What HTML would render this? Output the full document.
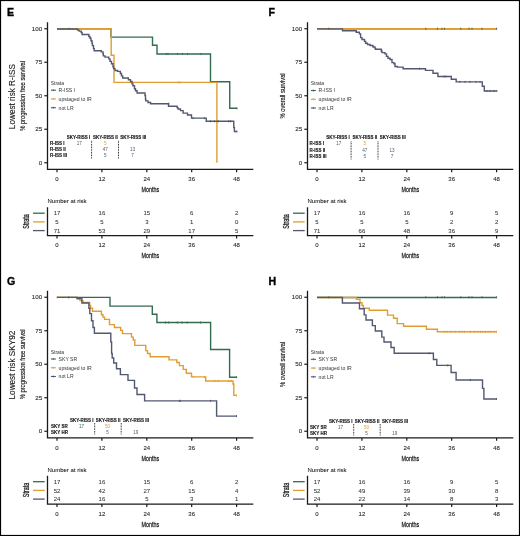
<!DOCTYPE html>
<html><head><meta charset="utf-8"><style>
html,body{margin:0;padding:0;background:#fff;width:520px;height:536px;overflow:hidden}
svg{display:block;will-change:transform}
text{font-family:"Liberation Sans", sans-serif}
</style></head><body>
<svg width="520" height="536" viewBox="0 0 520 536" font-family='"Liberation Sans", sans-serif'>
<rect x="0" y="0" width="520" height="536" fill="#fff"/>
<text x="6.90" y="16.30" font-size="10.6" text-anchor="start" font-weight="bold" fill="#000" stroke="#000" stroke-width="0.35" >E</text>
<text x="0.00" y="0.00" font-size="8.2" text-anchor="middle" font-weight="normal" fill="#1a1a1a" stroke="#1a1a1a" stroke-width="0.12" transform="translate(14.50,96.60) rotate(-90) scale(1,1)" >Lowest risk R-ISS</text>
<text x="0.00" y="0.00" font-size="7" text-anchor="middle" font-weight="normal" fill="#222" stroke="#222" stroke-width="0.18" transform="translate(24.90,95.90) rotate(-90) scale(0.83,1)" >% progression free survival</text>
<path d="M47.50 22.20 V169.40 H253.30" fill="none" stroke="#1a1a1a" stroke-width="1.3"/>
<line x1="44.30" y1="28.75" x2="47.50" y2="28.75" stroke="#1a1a1a" stroke-width="1.2"/>
<text x="42.20" y="30.95" font-size="6.2" text-anchor="end" font-weight="normal" fill="#2a2a2a" stroke="#2a2a2a" stroke-width="0.1" >100</text>
<line x1="44.30" y1="62.25" x2="47.50" y2="62.25" stroke="#1a1a1a" stroke-width="1.2"/>
<text x="42.20" y="64.45" font-size="6.2" text-anchor="end" font-weight="normal" fill="#2a2a2a" stroke="#2a2a2a" stroke-width="0.1" >75</text>
<line x1="44.30" y1="95.75" x2="47.50" y2="95.75" stroke="#1a1a1a" stroke-width="1.2"/>
<text x="42.20" y="97.95" font-size="6.2" text-anchor="end" font-weight="normal" fill="#2a2a2a" stroke="#2a2a2a" stroke-width="0.1" >50</text>
<line x1="44.30" y1="129.25" x2="47.50" y2="129.25" stroke="#1a1a1a" stroke-width="1.2"/>
<text x="42.20" y="131.45" font-size="6.2" text-anchor="end" font-weight="normal" fill="#2a2a2a" stroke="#2a2a2a" stroke-width="0.1" >25</text>
<line x1="44.30" y1="162.75" x2="47.50" y2="162.75" stroke="#1a1a1a" stroke-width="1.2"/>
<text x="42.20" y="164.95" font-size="6.2" text-anchor="end" font-weight="normal" fill="#2a2a2a" stroke="#2a2a2a" stroke-width="0.1" >0</text>
<line x1="57.00" y1="169.40" x2="57.00" y2="172.20" stroke="#1a1a1a" stroke-width="1.2"/>
<text x="57.00" y="181.00" font-size="6" text-anchor="middle" font-weight="normal" fill="#2a2a2a" stroke="#2a2a2a" stroke-width="0.1" >0</text>
<line x1="101.90" y1="169.40" x2="101.90" y2="172.20" stroke="#1a1a1a" stroke-width="1.2"/>
<text x="101.90" y="181.00" font-size="6" text-anchor="middle" font-weight="normal" fill="#2a2a2a" stroke="#2a2a2a" stroke-width="0.1" >12</text>
<line x1="146.80" y1="169.40" x2="146.80" y2="172.20" stroke="#1a1a1a" stroke-width="1.2"/>
<text x="146.80" y="181.00" font-size="6" text-anchor="middle" font-weight="normal" fill="#2a2a2a" stroke="#2a2a2a" stroke-width="0.1" >24</text>
<line x1="191.70" y1="169.40" x2="191.70" y2="172.20" stroke="#1a1a1a" stroke-width="1.2"/>
<text x="191.70" y="181.00" font-size="6" text-anchor="middle" font-weight="normal" fill="#2a2a2a" stroke="#2a2a2a" stroke-width="0.1" >36</text>
<line x1="236.60" y1="169.40" x2="236.60" y2="172.20" stroke="#1a1a1a" stroke-width="1.2"/>
<text x="236.60" y="181.00" font-size="6" text-anchor="middle" font-weight="normal" fill="#2a2a2a" stroke="#2a2a2a" stroke-width="0.1" >48</text>
<text x="0.00" y="0.00" font-size="7.6" text-anchor="middle" font-weight="normal" fill="#222" stroke="#222" stroke-width="0.25" transform="translate(150.40,192.30) rotate(0) scale(0.71,1)" >Months</text>
<text x="50.70" y="84.80" font-size="5" text-anchor="start" font-weight="normal" fill="#333" stroke="#333" stroke-width="0" >Strata</text>
<line x1="50.90" y1="90.20" x2="55.90" y2="90.20" stroke="#346b50" stroke-width="1.1"/>
<line x1="53.40" y1="89.20" x2="53.40" y2="91.20" stroke="#346b50" stroke-width="0.7"/>
<text x="58.60" y="92.05" font-size="5.1" text-anchor="start" font-weight="normal" fill="#333" stroke="#333" stroke-width="0" >R-ISS I</text>
<line x1="50.90" y1="98.95" x2="55.90" y2="98.95" stroke="#e29d32" stroke-width="1.1"/>
<line x1="53.40" y1="97.95" x2="53.40" y2="99.95" stroke="#e29d32" stroke-width="0.7"/>
<text x="58.60" y="100.80" font-size="5.1" text-anchor="start" font-weight="normal" fill="#333" stroke="#333" stroke-width="0" >upstaged to IR</text>
<line x1="50.90" y1="107.70" x2="55.90" y2="107.70" stroke="#525870" stroke-width="1.1"/>
<line x1="53.40" y1="106.70" x2="53.40" y2="108.70" stroke="#525870" stroke-width="0.7"/>
<text x="58.60" y="109.55" font-size="5.1" text-anchor="start" font-weight="normal" fill="#333" stroke="#333" stroke-width="0" >not LR</text>
<path d="M57.00 28.75 H111.00 V37.10 H152.50 V45.25 H157.00 V54.00 H210.50 V81.75 H229.75 V108.30 H237.00 V108.30" transform="translate(0,0)" fill="none" stroke="#346b50" stroke-width="1.4" stroke-linejoin="miter" stroke-linecap="butt"/>
<line x1="68.80" y1="27.70" x2="68.80" y2="29.80" stroke="#346b50" stroke-width="0.9"/>
<line x1="166.25" y1="52.95" x2="166.25" y2="55.05" stroke="#346b50" stroke-width="0.9"/>
<line x1="168.00" y1="52.95" x2="168.00" y2="55.05" stroke="#346b50" stroke-width="0.9"/>
<line x1="177.50" y1="52.95" x2="177.50" y2="55.05" stroke="#346b50" stroke-width="0.9"/>
<line x1="182.50" y1="52.95" x2="182.50" y2="55.05" stroke="#346b50" stroke-width="0.9"/>
<line x1="187.50" y1="52.95" x2="187.50" y2="55.05" stroke="#346b50" stroke-width="0.9"/>
<line x1="200.75" y1="52.95" x2="200.75" y2="55.05" stroke="#346b50" stroke-width="0.9"/>
<line x1="237.00" y1="107.25" x2="237.00" y2="109.35" stroke="#346b50" stroke-width="0.9"/>
<path d="M57.00 28.75 H111.20 V55.20 H114.00 V82.40 H216.90 V162.75" transform="translate(0,0)" fill="none" stroke="#e29d32" stroke-width="1.4" stroke-linejoin="miter" stroke-linecap="butt"/>
<line x1="178.10" y1="81.35" x2="178.10" y2="83.45" stroke="#e29d32" stroke-width="0.9"/>
<line x1="180.20" y1="81.35" x2="180.20" y2="83.45" stroke="#e29d32" stroke-width="0.9"/>
<path d="M57.00 29.00 H77.50 V30.10 H79.10 V31.10 H81.20 V32.50 H82.10 V34.50 H88.80 V36.50 H90.00 V38.30 H91.00 V40.80 H92.00 V43.20 H92.40 V45.60 H93.50 V48.60 H94.20 V50.70 H101.30 V51.90 H103.00 V53.80 H103.30 V55.90 H105.00 V57.10 H108.80 V58.90 H110.00 V61.40 H111.50 V63.80 H113.00 V66.80 H113.60 V68.60 H115.00 V70.50 H117.50 V71.40 H120.30 V73.50 H121.50 V75.90 H122.70 V78.00 H128.40 V79.70 H130.50 V81.50 H132.00 V83.90 H133.00 V85.80 H134.50 V88.80 H135.50 V90.80 H137.10 V93.00 H145.00 V95.50 H145.50 V99.10 H145.80 V100.90 H148.00 V102.50 H150.60 V103.80 H168.50 V106.20 H177.10 V107.60 H178.00 V109.00 H180.50 V110.60 H183.10 V113.10 H187.50 V115.00 H191.50 V118.10 H206.25 V121.25 H233.75 V127.50 H234.40 V131.50 H236.90 V131.50" transform="translate(0,0)" fill="none" stroke="#525870" stroke-width="1.4" stroke-linejoin="miter" stroke-linecap="butt"/>
<line x1="168.75" y1="102.65" x2="168.75" y2="104.75" stroke="#525870" stroke-width="0.9"/>
<line x1="193.10" y1="117.05" x2="193.10" y2="119.15" stroke="#525870" stroke-width="0.9"/>
<line x1="204.40" y1="117.05" x2="204.40" y2="119.15" stroke="#525870" stroke-width="0.9"/>
<line x1="210.40" y1="120.20" x2="210.40" y2="122.30" stroke="#525870" stroke-width="0.9"/>
<line x1="214.40" y1="120.20" x2="214.40" y2="122.30" stroke="#525870" stroke-width="0.9"/>
<line x1="218.10" y1="120.20" x2="218.10" y2="122.30" stroke="#525870" stroke-width="0.9"/>
<line x1="228.75" y1="120.20" x2="228.75" y2="122.30" stroke="#525870" stroke-width="0.9"/>
<line x1="230.60" y1="120.20" x2="230.60" y2="122.30" stroke="#525870" stroke-width="0.9"/>
<line x1="236.90" y1="130.45" x2="236.90" y2="132.55" stroke="#525870" stroke-width="0.9"/>
<text x="66.80" y="138.50" font-size="4.5" text-anchor="start" font-weight="bold" fill="#111" stroke="#111" stroke-width="0.1" >SKY-RISS I</text>
<text x="93.10" y="138.50" font-size="4.5" text-anchor="start" font-weight="bold" fill="#111" stroke="#111" stroke-width="0.1" >SKY-RISS II</text>
<text x="120.20" y="138.50" font-size="4.5" text-anchor="start" font-weight="bold" fill="#111" stroke="#111" stroke-width="0.1" >SKY-RISS III</text>
<text x="50.00" y="144.60" font-size="4.5" text-anchor="start" font-weight="bold" fill="#111" stroke="#111" stroke-width="0.1" >R-ISS I</text>
<text x="50.00" y="150.80" font-size="4.5" text-anchor="start" font-weight="bold" fill="#111" stroke="#111" stroke-width="0.1" >R-ISS II</text>
<text x="50.00" y="157.10" font-size="4.5" text-anchor="start" font-weight="bold" fill="#111" stroke="#111" stroke-width="0.1" >R-ISS III</text>
<text x="79.30" y="144.60" font-size="4.6" text-anchor="middle" font-weight="normal" fill="#346b50" stroke="#346b50" stroke-width="0" >17</text>
<text x="105.20" y="144.60" font-size="4.6" text-anchor="middle" font-weight="normal" fill="#e29d32" stroke="#e29d32" stroke-width="0" >5</text>
<text x="105.20" y="150.80" font-size="4.6" text-anchor="middle" font-weight="normal" fill="#525870" stroke="#525870" stroke-width="0" >47</text>
<text x="105.20" y="157.10" font-size="4.6" text-anchor="middle" font-weight="normal" fill="#525870" stroke="#525870" stroke-width="0" >5</text>
<text x="132.50" y="150.80" font-size="4.6" text-anchor="middle" font-weight="normal" fill="#525870" stroke="#525870" stroke-width="0" >13</text>
<text x="132.50" y="157.10" font-size="4.6" text-anchor="middle" font-weight="normal" fill="#525870" stroke="#525870" stroke-width="0" >7</text>
<line x1="91.60" y1="140.80" x2="91.60" y2="158.80" stroke="#000" stroke-width="0.95" stroke-dasharray="0.8 0.8"/>
<line x1="118.50" y1="140.80" x2="118.50" y2="158.80" stroke="#000" stroke-width="0.95" stroke-dasharray="0.8 0.8"/>
<text x="47.50" y="203.20" font-size="6" text-anchor="start" font-weight="normal" fill="#111" stroke="#111" stroke-width="0.06" >Number at risk</text>
<path d="M47.50 207.20 V235.60 H253.30" fill="none" stroke="#1a1a1a" stroke-width="1.3"/>
<line x1="57.00" y1="235.60" x2="57.00" y2="238.40" stroke="#1a1a1a" stroke-width="1.2"/>
<text x="57.00" y="247.20" font-size="6" text-anchor="middle" font-weight="normal" fill="#2a2a2a" stroke="#2a2a2a" stroke-width="0.1" >0</text>
<line x1="101.90" y1="235.60" x2="101.90" y2="238.40" stroke="#1a1a1a" stroke-width="1.2"/>
<text x="101.90" y="247.20" font-size="6" text-anchor="middle" font-weight="normal" fill="#2a2a2a" stroke="#2a2a2a" stroke-width="0.1" >12</text>
<line x1="146.80" y1="235.60" x2="146.80" y2="238.40" stroke="#1a1a1a" stroke-width="1.2"/>
<text x="146.80" y="247.20" font-size="6" text-anchor="middle" font-weight="normal" fill="#2a2a2a" stroke="#2a2a2a" stroke-width="0.1" >24</text>
<line x1="191.70" y1="235.60" x2="191.70" y2="238.40" stroke="#1a1a1a" stroke-width="1.2"/>
<text x="191.70" y="247.20" font-size="6" text-anchor="middle" font-weight="normal" fill="#2a2a2a" stroke="#2a2a2a" stroke-width="0.1" >36</text>
<line x1="236.60" y1="235.60" x2="236.60" y2="238.40" stroke="#1a1a1a" stroke-width="1.2"/>
<text x="236.60" y="247.20" font-size="6" text-anchor="middle" font-weight="normal" fill="#2a2a2a" stroke="#2a2a2a" stroke-width="0.1" >48</text>
<text x="0.00" y="0.00" font-size="7.6" text-anchor="middle" font-weight="normal" fill="#222" stroke="#222" stroke-width="0.25" transform="translate(150.40,258.00) rotate(0) scale(0.71,1)" >Months</text>
<text x="0.00" y="0.00" font-size="8.2" text-anchor="middle" font-weight="normal" fill="#222" stroke="#222" stroke-width="0.3" transform="translate(28.80,221.50) rotate(-90) scale(0.66,1)" >Strata</text>
<line x1="33.00" y1="213.20" x2="44.70" y2="213.20" stroke="#346b50" stroke-width="1.3"/>
<text x="57.00" y="215.40" font-size="6" text-anchor="middle" font-weight="normal" fill="#333" stroke="#333" stroke-width="0.06" >17</text>
<text x="101.90" y="215.40" font-size="6" text-anchor="middle" font-weight="normal" fill="#333" stroke="#333" stroke-width="0.06" >16</text>
<text x="146.80" y="215.40" font-size="6" text-anchor="middle" font-weight="normal" fill="#333" stroke="#333" stroke-width="0.06" >15</text>
<text x="191.70" y="215.40" font-size="6" text-anchor="middle" font-weight="normal" fill="#333" stroke="#333" stroke-width="0.06" >6</text>
<text x="236.60" y="215.40" font-size="6" text-anchor="middle" font-weight="normal" fill="#333" stroke="#333" stroke-width="0.06" >2</text>
<line x1="33.00" y1="221.90" x2="44.70" y2="221.90" stroke="#e29d32" stroke-width="1.3"/>
<text x="57.00" y="224.10" font-size="6" text-anchor="middle" font-weight="normal" fill="#333" stroke="#333" stroke-width="0.06" >5</text>
<text x="101.90" y="224.10" font-size="6" text-anchor="middle" font-weight="normal" fill="#333" stroke="#333" stroke-width="0.06" >5</text>
<text x="146.80" y="224.10" font-size="6" text-anchor="middle" font-weight="normal" fill="#333" stroke="#333" stroke-width="0.06" >3</text>
<text x="191.70" y="224.10" font-size="6" text-anchor="middle" font-weight="normal" fill="#333" stroke="#333" stroke-width="0.06" >1</text>
<text x="236.60" y="224.10" font-size="6" text-anchor="middle" font-weight="normal" fill="#333" stroke="#333" stroke-width="0.06" >0</text>
<line x1="33.00" y1="230.60" x2="44.70" y2="230.60" stroke="#525870" stroke-width="1.3"/>
<text x="57.00" y="232.80" font-size="6" text-anchor="middle" font-weight="normal" fill="#333" stroke="#333" stroke-width="0.06" >71</text>
<text x="101.90" y="232.80" font-size="6" text-anchor="middle" font-weight="normal" fill="#333" stroke="#333" stroke-width="0.06" >53</text>
<text x="146.80" y="232.80" font-size="6" text-anchor="middle" font-weight="normal" fill="#333" stroke="#333" stroke-width="0.06" >29</text>
<text x="191.70" y="232.80" font-size="6" text-anchor="middle" font-weight="normal" fill="#333" stroke="#333" stroke-width="0.06" >17</text>
<text x="236.60" y="232.80" font-size="6" text-anchor="middle" font-weight="normal" fill="#333" stroke="#333" stroke-width="0.06" >5</text>
<text x="268.40" y="16.30" font-size="10.6" text-anchor="start" font-weight="bold" fill="#000" stroke="#000" stroke-width="0.35" >F</text>
<text x="0.00" y="0.00" font-size="7" text-anchor="middle" font-weight="normal" fill="#222" stroke="#222" stroke-width="0.18" transform="translate(284.90,95.90) rotate(-90) scale(0.83,1)" >% overall survival</text>
<path d="M307.50 22.20 V169.40 H513.30" fill="none" stroke="#1a1a1a" stroke-width="1.3"/>
<line x1="304.30" y1="28.75" x2="307.50" y2="28.75" stroke="#1a1a1a" stroke-width="1.2"/>
<text x="302.20" y="30.95" font-size="6.2" text-anchor="end" font-weight="normal" fill="#2a2a2a" stroke="#2a2a2a" stroke-width="0.1" >100</text>
<line x1="304.30" y1="62.25" x2="307.50" y2="62.25" stroke="#1a1a1a" stroke-width="1.2"/>
<text x="302.20" y="64.45" font-size="6.2" text-anchor="end" font-weight="normal" fill="#2a2a2a" stroke="#2a2a2a" stroke-width="0.1" >75</text>
<line x1="304.30" y1="95.75" x2="307.50" y2="95.75" stroke="#1a1a1a" stroke-width="1.2"/>
<text x="302.20" y="97.95" font-size="6.2" text-anchor="end" font-weight="normal" fill="#2a2a2a" stroke="#2a2a2a" stroke-width="0.1" >50</text>
<line x1="304.30" y1="129.25" x2="307.50" y2="129.25" stroke="#1a1a1a" stroke-width="1.2"/>
<text x="302.20" y="131.45" font-size="6.2" text-anchor="end" font-weight="normal" fill="#2a2a2a" stroke="#2a2a2a" stroke-width="0.1" >25</text>
<line x1="304.30" y1="162.75" x2="307.50" y2="162.75" stroke="#1a1a1a" stroke-width="1.2"/>
<text x="302.20" y="164.95" font-size="6.2" text-anchor="end" font-weight="normal" fill="#2a2a2a" stroke="#2a2a2a" stroke-width="0.1" >0</text>
<line x1="317.00" y1="169.40" x2="317.00" y2="172.20" stroke="#1a1a1a" stroke-width="1.2"/>
<text x="317.00" y="181.00" font-size="6" text-anchor="middle" font-weight="normal" fill="#2a2a2a" stroke="#2a2a2a" stroke-width="0.1" >0</text>
<line x1="361.90" y1="169.40" x2="361.90" y2="172.20" stroke="#1a1a1a" stroke-width="1.2"/>
<text x="361.90" y="181.00" font-size="6" text-anchor="middle" font-weight="normal" fill="#2a2a2a" stroke="#2a2a2a" stroke-width="0.1" >12</text>
<line x1="406.80" y1="169.40" x2="406.80" y2="172.20" stroke="#1a1a1a" stroke-width="1.2"/>
<text x="406.80" y="181.00" font-size="6" text-anchor="middle" font-weight="normal" fill="#2a2a2a" stroke="#2a2a2a" stroke-width="0.1" >24</text>
<line x1="451.70" y1="169.40" x2="451.70" y2="172.20" stroke="#1a1a1a" stroke-width="1.2"/>
<text x="451.70" y="181.00" font-size="6" text-anchor="middle" font-weight="normal" fill="#2a2a2a" stroke="#2a2a2a" stroke-width="0.1" >36</text>
<line x1="496.60" y1="169.40" x2="496.60" y2="172.20" stroke="#1a1a1a" stroke-width="1.2"/>
<text x="496.60" y="181.00" font-size="6" text-anchor="middle" font-weight="normal" fill="#2a2a2a" stroke="#2a2a2a" stroke-width="0.1" >48</text>
<text x="0.00" y="0.00" font-size="7.6" text-anchor="middle" font-weight="normal" fill="#222" stroke="#222" stroke-width="0.25" transform="translate(410.40,192.30) rotate(0) scale(0.71,1)" >Months</text>
<text x="310.70" y="85.10" font-size="5" text-anchor="start" font-weight="normal" fill="#333" stroke="#333" stroke-width="0" >Strata</text>
<line x1="310.90" y1="90.50" x2="315.90" y2="90.50" stroke="#346b50" stroke-width="1.1"/>
<line x1="313.40" y1="89.50" x2="313.40" y2="91.50" stroke="#346b50" stroke-width="0.7"/>
<text x="318.60" y="92.35" font-size="5.1" text-anchor="start" font-weight="normal" fill="#333" stroke="#333" stroke-width="0" >R-ISS I</text>
<line x1="310.90" y1="99.25" x2="315.90" y2="99.25" stroke="#e29d32" stroke-width="1.1"/>
<line x1="313.40" y1="98.25" x2="313.40" y2="100.25" stroke="#e29d32" stroke-width="0.7"/>
<text x="318.60" y="101.10" font-size="5.1" text-anchor="start" font-weight="normal" fill="#333" stroke="#333" stroke-width="0" >upstaged to IR</text>
<line x1="310.90" y1="108.00" x2="315.90" y2="108.00" stroke="#525870" stroke-width="1.1"/>
<line x1="313.40" y1="107.00" x2="313.40" y2="109.00" stroke="#525870" stroke-width="0.7"/>
<text x="318.60" y="109.85" font-size="5.1" text-anchor="start" font-weight="normal" fill="#333" stroke="#333" stroke-width="0" >not LR</text>
<path d="M57.00 28.75 H236.60 V28.75" transform="translate(260,0)" fill="none" stroke="#346b50" stroke-width="1.4" stroke-linejoin="miter" stroke-linecap="butt"/>
<path d="M57.00 28.75 H236.60 V28.75" transform="translate(260,0)" fill="none" stroke="#e29d32" stroke-width="1.4" stroke-linejoin="miter" stroke-linecap="butt"/>
<line x1="328.75" y1="27.70" x2="328.75" y2="29.80" stroke="#346b50" stroke-width="0.9"/>
<line x1="425.80" y1="27.70" x2="425.80" y2="29.80" stroke="#346b50" stroke-width="0.9"/>
<line x1="437.40" y1="27.70" x2="437.40" y2="29.80" stroke="#346b50" stroke-width="0.9"/>
<line x1="442.00" y1="27.70" x2="442.00" y2="29.80" stroke="#346b50" stroke-width="0.9"/>
<line x1="444.50" y1="27.70" x2="444.50" y2="29.80" stroke="#346b50" stroke-width="0.9"/>
<line x1="460.80" y1="27.70" x2="460.80" y2="29.80" stroke="#346b50" stroke-width="0.9"/>
<line x1="469.00" y1="27.70" x2="469.00" y2="29.80" stroke="#346b50" stroke-width="0.9"/>
<line x1="472.00" y1="27.70" x2="472.00" y2="29.80" stroke="#346b50" stroke-width="0.9"/>
<line x1="482.00" y1="27.70" x2="482.00" y2="29.80" stroke="#346b50" stroke-width="0.9"/>
<line x1="496.60" y1="27.70" x2="496.60" y2="29.80" stroke="#346b50" stroke-width="0.9"/>
<path d="M57.00 28.90 H82.50 V30.75 H96.25 V32.25 H99.40 V33.90 H100.60 V37.60 H102.00 V39.50 H104.50 V41.40 H105.60 V43.25 H107.50 V44.50 H110.00 V45.50 H113.00 V47.00 H115.00 V48.50 H115.60 V49.25 H121.25 V51.00 H122.00 V52.60 H125.00 V53.90 H126.50 V56.40 H128.00 V58.25 H130.00 V59.50 H132.00 V62.60 H134.00 V63.80 H135.00 V66.50 H137.40 V67.10 H143.10 V68.75 H165.50 V70.40 H173.00 V73.30 H177.90 V76.50 H191.30 V79.20 H196.20 V81.90 H222.30 V86.20 H224.30 V91.00 H236.80 V91.00" transform="translate(260,0)" fill="none" stroke="#525870" stroke-width="1.4" stroke-linejoin="miter" stroke-linecap="butt"/>
<line x1="419.60" y1="67.70" x2="419.60" y2="69.80" stroke="#525870" stroke-width="0.9"/>
<line x1="444.00" y1="75.45" x2="444.00" y2="77.55" stroke="#525870" stroke-width="0.9"/>
<line x1="446.00" y1="75.45" x2="446.00" y2="77.55" stroke="#525870" stroke-width="0.9"/>
<line x1="459.80" y1="80.85" x2="459.80" y2="82.95" stroke="#525870" stroke-width="0.9"/>
<line x1="465.00" y1="80.85" x2="465.00" y2="82.95" stroke="#525870" stroke-width="0.9"/>
<line x1="470.00" y1="80.85" x2="470.00" y2="82.95" stroke="#525870" stroke-width="0.9"/>
<line x1="476.00" y1="80.85" x2="476.00" y2="82.95" stroke="#525870" stroke-width="0.9"/>
<line x1="480.00" y1="80.85" x2="480.00" y2="82.95" stroke="#525870" stroke-width="0.9"/>
<line x1="487.00" y1="89.95" x2="487.00" y2="92.05" stroke="#525870" stroke-width="0.9"/>
<line x1="490.00" y1="89.95" x2="490.00" y2="92.05" stroke="#525870" stroke-width="0.9"/>
<line x1="494.00" y1="89.95" x2="494.00" y2="92.05" stroke="#525870" stroke-width="0.9"/>
<line x1="496.80" y1="89.95" x2="496.80" y2="92.05" stroke="#525870" stroke-width="0.9"/>
<text x="326.30" y="139.20" font-size="4.5" text-anchor="start" font-weight="bold" fill="#111" stroke="#111" stroke-width="0.1" >SKY-RISS I</text>
<text x="352.60" y="139.20" font-size="4.5" text-anchor="start" font-weight="bold" fill="#111" stroke="#111" stroke-width="0.1" >SKY-RISS II</text>
<text x="379.70" y="139.20" font-size="4.5" text-anchor="start" font-weight="bold" fill="#111" stroke="#111" stroke-width="0.1" >SKY-RISS III</text>
<text x="309.50" y="145.30" font-size="4.5" text-anchor="start" font-weight="bold" fill="#111" stroke="#111" stroke-width="0.1" >R-ISS I</text>
<text x="309.50" y="151.50" font-size="4.5" text-anchor="start" font-weight="bold" fill="#111" stroke="#111" stroke-width="0.1" >R-ISS II</text>
<text x="309.50" y="157.80" font-size="4.5" text-anchor="start" font-weight="bold" fill="#111" stroke="#111" stroke-width="0.1" >R-ISS III</text>
<text x="338.80" y="145.30" font-size="4.6" text-anchor="middle" font-weight="normal" fill="#346b50" stroke="#346b50" stroke-width="0" >17</text>
<text x="364.70" y="145.30" font-size="4.6" text-anchor="middle" font-weight="normal" fill="#e29d32" stroke="#e29d32" stroke-width="0" >5</text>
<text x="364.70" y="151.50" font-size="4.6" text-anchor="middle" font-weight="normal" fill="#525870" stroke="#525870" stroke-width="0" >47</text>
<text x="364.70" y="157.80" font-size="4.6" text-anchor="middle" font-weight="normal" fill="#525870" stroke="#525870" stroke-width="0" >5</text>
<text x="392.00" y="151.50" font-size="4.6" text-anchor="middle" font-weight="normal" fill="#525870" stroke="#525870" stroke-width="0" >13</text>
<text x="392.00" y="157.80" font-size="4.6" text-anchor="middle" font-weight="normal" fill="#525870" stroke="#525870" stroke-width="0" >7</text>
<line x1="351.10" y1="141.50" x2="351.10" y2="159.50" stroke="#000" stroke-width="0.95" stroke-dasharray="0.8 0.8"/>
<line x1="378.00" y1="141.50" x2="378.00" y2="159.50" stroke="#000" stroke-width="0.95" stroke-dasharray="0.8 0.8"/>
<text x="307.50" y="203.20" font-size="6" text-anchor="start" font-weight="normal" fill="#111" stroke="#111" stroke-width="0.06" >Number at risk</text>
<path d="M307.50 207.20 V235.60 H513.30" fill="none" stroke="#1a1a1a" stroke-width="1.3"/>
<line x1="317.00" y1="235.60" x2="317.00" y2="238.40" stroke="#1a1a1a" stroke-width="1.2"/>
<text x="317.00" y="247.20" font-size="6" text-anchor="middle" font-weight="normal" fill="#2a2a2a" stroke="#2a2a2a" stroke-width="0.1" >0</text>
<line x1="361.90" y1="235.60" x2="361.90" y2="238.40" stroke="#1a1a1a" stroke-width="1.2"/>
<text x="361.90" y="247.20" font-size="6" text-anchor="middle" font-weight="normal" fill="#2a2a2a" stroke="#2a2a2a" stroke-width="0.1" >12</text>
<line x1="406.80" y1="235.60" x2="406.80" y2="238.40" stroke="#1a1a1a" stroke-width="1.2"/>
<text x="406.80" y="247.20" font-size="6" text-anchor="middle" font-weight="normal" fill="#2a2a2a" stroke="#2a2a2a" stroke-width="0.1" >24</text>
<line x1="451.70" y1="235.60" x2="451.70" y2="238.40" stroke="#1a1a1a" stroke-width="1.2"/>
<text x="451.70" y="247.20" font-size="6" text-anchor="middle" font-weight="normal" fill="#2a2a2a" stroke="#2a2a2a" stroke-width="0.1" >36</text>
<line x1="496.60" y1="235.60" x2="496.60" y2="238.40" stroke="#1a1a1a" stroke-width="1.2"/>
<text x="496.60" y="247.20" font-size="6" text-anchor="middle" font-weight="normal" fill="#2a2a2a" stroke="#2a2a2a" stroke-width="0.1" >48</text>
<text x="0.00" y="0.00" font-size="7.6" text-anchor="middle" font-weight="normal" fill="#222" stroke="#222" stroke-width="0.25" transform="translate(410.40,258.00) rotate(0) scale(0.71,1)" >Months</text>
<text x="0.00" y="0.00" font-size="8.2" text-anchor="middle" font-weight="normal" fill="#222" stroke="#222" stroke-width="0.3" transform="translate(288.80,221.50) rotate(-90) scale(0.66,1)" >Strata</text>
<line x1="293.00" y1="213.20" x2="304.70" y2="213.20" stroke="#346b50" stroke-width="1.3"/>
<text x="317.00" y="215.40" font-size="6" text-anchor="middle" font-weight="normal" fill="#333" stroke="#333" stroke-width="0.06" >17</text>
<text x="361.90" y="215.40" font-size="6" text-anchor="middle" font-weight="normal" fill="#333" stroke="#333" stroke-width="0.06" >16</text>
<text x="406.80" y="215.40" font-size="6" text-anchor="middle" font-weight="normal" fill="#333" stroke="#333" stroke-width="0.06" >16</text>
<text x="451.70" y="215.40" font-size="6" text-anchor="middle" font-weight="normal" fill="#333" stroke="#333" stroke-width="0.06" >9</text>
<text x="496.60" y="215.40" font-size="6" text-anchor="middle" font-weight="normal" fill="#333" stroke="#333" stroke-width="0.06" >5</text>
<line x1="293.00" y1="221.90" x2="304.70" y2="221.90" stroke="#e29d32" stroke-width="1.3"/>
<text x="317.00" y="224.10" font-size="6" text-anchor="middle" font-weight="normal" fill="#333" stroke="#333" stroke-width="0.06" >5</text>
<text x="361.90" y="224.10" font-size="6" text-anchor="middle" font-weight="normal" fill="#333" stroke="#333" stroke-width="0.06" >5</text>
<text x="406.80" y="224.10" font-size="6" text-anchor="middle" font-weight="normal" fill="#333" stroke="#333" stroke-width="0.06" >5</text>
<text x="451.70" y="224.10" font-size="6" text-anchor="middle" font-weight="normal" fill="#333" stroke="#333" stroke-width="0.06" >2</text>
<text x="496.60" y="224.10" font-size="6" text-anchor="middle" font-weight="normal" fill="#333" stroke="#333" stroke-width="0.06" >2</text>
<line x1="293.00" y1="230.60" x2="304.70" y2="230.60" stroke="#525870" stroke-width="1.3"/>
<text x="317.00" y="232.80" font-size="6" text-anchor="middle" font-weight="normal" fill="#333" stroke="#333" stroke-width="0.06" >71</text>
<text x="361.90" y="232.80" font-size="6" text-anchor="middle" font-weight="normal" fill="#333" stroke="#333" stroke-width="0.06" >66</text>
<text x="406.80" y="232.80" font-size="6" text-anchor="middle" font-weight="normal" fill="#333" stroke="#333" stroke-width="0.06" >48</text>
<text x="451.70" y="232.80" font-size="6" text-anchor="middle" font-weight="normal" fill="#333" stroke="#333" stroke-width="0.06" >36</text>
<text x="496.60" y="232.80" font-size="6" text-anchor="middle" font-weight="normal" fill="#333" stroke="#333" stroke-width="0.06" >9</text>
<text x="6.90" y="284.80" font-size="10.6" text-anchor="start" font-weight="bold" fill="#000" stroke="#000" stroke-width="0.35" >G</text>
<text x="0.00" y="0.00" font-size="8.2" text-anchor="middle" font-weight="normal" fill="#1a1a1a" stroke="#1a1a1a" stroke-width="0.12" transform="translate(14.50,365.10) rotate(-90) scale(1,1)" >Lowest risk SKY92</text>
<text x="0.00" y="0.00" font-size="7" text-anchor="middle" font-weight="normal" fill="#222" stroke="#222" stroke-width="0.18" transform="translate(24.90,364.40) rotate(-90) scale(0.83,1)" >% progression free survival</text>
<path d="M47.50 290.70 V437.90 H253.30" fill="none" stroke="#1a1a1a" stroke-width="1.3"/>
<line x1="44.30" y1="297.25" x2="47.50" y2="297.25" stroke="#1a1a1a" stroke-width="1.2"/>
<text x="42.20" y="299.45" font-size="6.2" text-anchor="end" font-weight="normal" fill="#2a2a2a" stroke="#2a2a2a" stroke-width="0.1" >100</text>
<line x1="44.30" y1="330.75" x2="47.50" y2="330.75" stroke="#1a1a1a" stroke-width="1.2"/>
<text x="42.20" y="332.95" font-size="6.2" text-anchor="end" font-weight="normal" fill="#2a2a2a" stroke="#2a2a2a" stroke-width="0.1" >75</text>
<line x1="44.30" y1="364.25" x2="47.50" y2="364.25" stroke="#1a1a1a" stroke-width="1.2"/>
<text x="42.20" y="366.45" font-size="6.2" text-anchor="end" font-weight="normal" fill="#2a2a2a" stroke="#2a2a2a" stroke-width="0.1" >50</text>
<line x1="44.30" y1="397.75" x2="47.50" y2="397.75" stroke="#1a1a1a" stroke-width="1.2"/>
<text x="42.20" y="399.95" font-size="6.2" text-anchor="end" font-weight="normal" fill="#2a2a2a" stroke="#2a2a2a" stroke-width="0.1" >25</text>
<line x1="44.30" y1="431.25" x2="47.50" y2="431.25" stroke="#1a1a1a" stroke-width="1.2"/>
<text x="42.20" y="433.45" font-size="6.2" text-anchor="end" font-weight="normal" fill="#2a2a2a" stroke="#2a2a2a" stroke-width="0.1" >0</text>
<line x1="57.00" y1="437.90" x2="57.00" y2="440.70" stroke="#1a1a1a" stroke-width="1.2"/>
<text x="57.00" y="449.50" font-size="6" text-anchor="middle" font-weight="normal" fill="#2a2a2a" stroke="#2a2a2a" stroke-width="0.1" >0</text>
<line x1="101.90" y1="437.90" x2="101.90" y2="440.70" stroke="#1a1a1a" stroke-width="1.2"/>
<text x="101.90" y="449.50" font-size="6" text-anchor="middle" font-weight="normal" fill="#2a2a2a" stroke="#2a2a2a" stroke-width="0.1" >12</text>
<line x1="146.80" y1="437.90" x2="146.80" y2="440.70" stroke="#1a1a1a" stroke-width="1.2"/>
<text x="146.80" y="449.50" font-size="6" text-anchor="middle" font-weight="normal" fill="#2a2a2a" stroke="#2a2a2a" stroke-width="0.1" >24</text>
<line x1="191.70" y1="437.90" x2="191.70" y2="440.70" stroke="#1a1a1a" stroke-width="1.2"/>
<text x="191.70" y="449.50" font-size="6" text-anchor="middle" font-weight="normal" fill="#2a2a2a" stroke="#2a2a2a" stroke-width="0.1" >36</text>
<line x1="236.60" y1="437.90" x2="236.60" y2="440.70" stroke="#1a1a1a" stroke-width="1.2"/>
<text x="236.60" y="449.50" font-size="6" text-anchor="middle" font-weight="normal" fill="#2a2a2a" stroke="#2a2a2a" stroke-width="0.1" >48</text>
<text x="0.00" y="0.00" font-size="7.6" text-anchor="middle" font-weight="normal" fill="#222" stroke="#222" stroke-width="0.25" transform="translate(150.40,460.80) rotate(0) scale(0.71,1)" >Months</text>
<text x="50.70" y="353.60" font-size="5" text-anchor="start" font-weight="normal" fill="#333" stroke="#333" stroke-width="0" >Strata</text>
<line x1="50.90" y1="359.00" x2="55.90" y2="359.00" stroke="#346b50" stroke-width="1.1"/>
<line x1="53.40" y1="358.00" x2="53.40" y2="360.00" stroke="#346b50" stroke-width="0.7"/>
<text x="58.60" y="360.85" font-size="5.1" text-anchor="start" font-weight="normal" fill="#333" stroke="#333" stroke-width="0" >SKY SR</text>
<line x1="50.90" y1="367.75" x2="55.90" y2="367.75" stroke="#e29d32" stroke-width="1.1"/>
<line x1="53.40" y1="366.75" x2="53.40" y2="368.75" stroke="#e29d32" stroke-width="0.7"/>
<text x="58.60" y="369.60" font-size="5.1" text-anchor="start" font-weight="normal" fill="#333" stroke="#333" stroke-width="0" >upstaged to IR</text>
<line x1="50.90" y1="376.50" x2="55.90" y2="376.50" stroke="#525870" stroke-width="1.1"/>
<line x1="53.40" y1="375.50" x2="53.40" y2="377.50" stroke="#525870" stroke-width="0.7"/>
<text x="58.60" y="378.35" font-size="5.1" text-anchor="start" font-weight="normal" fill="#333" stroke="#333" stroke-width="0" >not LR</text>
<path d="M57.00 28.90 H110.00 V37.60 H152.30 V45.70 H156.90 V54.00 H210.60 V81.00 H229.60 V108.70 H236.60 V108.70" transform="translate(0,268.5)" fill="none" stroke="#346b50" stroke-width="1.4" stroke-linejoin="miter" stroke-linecap="butt"/>
<line x1="68.75" y1="296.35" x2="68.75" y2="298.45" stroke="#346b50" stroke-width="0.9"/>
<line x1="165.60" y1="321.45" x2="165.60" y2="323.55" stroke="#346b50" stroke-width="0.9"/>
<line x1="168.70" y1="321.45" x2="168.70" y2="323.55" stroke="#346b50" stroke-width="0.9"/>
<line x1="177.30" y1="321.45" x2="177.30" y2="323.55" stroke="#346b50" stroke-width="0.9"/>
<line x1="182.00" y1="321.45" x2="182.00" y2="323.55" stroke="#346b50" stroke-width="0.9"/>
<line x1="187.20" y1="321.45" x2="187.20" y2="323.55" stroke="#346b50" stroke-width="0.9"/>
<line x1="200.50" y1="321.45" x2="200.50" y2="323.55" stroke="#346b50" stroke-width="0.9"/>
<line x1="236.60" y1="376.15" x2="236.60" y2="378.25" stroke="#346b50" stroke-width="0.9"/>
<path d="M57.00 28.90 H77.10 V30.20 H80.00 V32.10 H83.00 V34.00 H89.60 V36.90 H90.60 V39.80 H92.50 V42.70 H101.40 V46.30 H103.00 V48.60 H104.60 V50.90 H109.50 V56.10 H114.40 V59.00 H120.70 V61.90 H122.50 V65.10 H131.50 V68.60 H133.30 V71.50 H134.80 V76.90 H145.80 V82.10 H147.50 V85.00 H150.20 V88.30 H169.00 V91.40 H176.80 V94.00 H179.40 V97.10 H183.20 V100.90 H186.30 V104.70 H191.50 V108.40 H205.70 V112.50 H233.00 V115.50 H233.80 V126.90 H236.50 V126.90" transform="translate(0,268.5)" fill="none" stroke="#e29d32" stroke-width="1.4" stroke-linejoin="miter" stroke-linecap="butt"/>
<line x1="57.00" y1="296.35" x2="57.00" y2="298.45" stroke="#e29d32" stroke-width="0.9"/>
<line x1="193.30" y1="375.85" x2="193.30" y2="377.95" stroke="#e29d32" stroke-width="0.9"/>
<line x1="204.50" y1="375.85" x2="204.50" y2="377.95" stroke="#e29d32" stroke-width="0.9"/>
<line x1="214.90" y1="379.95" x2="214.90" y2="382.05" stroke="#e29d32" stroke-width="0.9"/>
<line x1="218.30" y1="379.95" x2="218.30" y2="382.05" stroke="#e29d32" stroke-width="0.9"/>
<line x1="228.70" y1="379.95" x2="228.70" y2="382.05" stroke="#e29d32" stroke-width="0.9"/>
<line x1="231.30" y1="379.95" x2="231.30" y2="382.05" stroke="#e29d32" stroke-width="0.9"/>
<line x1="236.50" y1="394.35" x2="236.50" y2="396.45" stroke="#e29d32" stroke-width="0.9"/>
<path d="M57.00 28.90 H77.10 V30.10 H81.90 V34.50 H88.90 V39.80 H89.80 V45.10 H91.50 V52.30 H93.00 V59.00 H94.40 V64.80 H110.80 V73.40 H111.60 V85.00 H112.20 V89.50 H113.70 V94.50 H116.50 V100.30 H120.40 V106.10 H128.00 V111.90 H134.50 V119.50 H137.00 V126.00 H144.60 V132.40 H216.60 V147.60 H236.50 V147.60" transform="translate(0,268.5)" fill="none" stroke="#525870" stroke-width="1.4" stroke-linejoin="miter" stroke-linecap="butt"/>
<line x1="179.40" y1="399.85" x2="179.40" y2="401.95" stroke="#525870" stroke-width="0.9"/>
<line x1="180.30" y1="399.85" x2="180.30" y2="401.95" stroke="#525870" stroke-width="0.9"/>
<line x1="210.60" y1="399.85" x2="210.60" y2="401.95" stroke="#525870" stroke-width="0.9"/>
<line x1="236.50" y1="415.05" x2="236.50" y2="417.15" stroke="#525870" stroke-width="0.9"/>
<text x="70.00" y="421.70" font-size="4.5" text-anchor="start" font-weight="bold" fill="#111" stroke="#111" stroke-width="0.1" >SKY-RISS I</text>
<text x="95.80" y="421.70" font-size="4.5" text-anchor="start" font-weight="bold" fill="#111" stroke="#111" stroke-width="0.1" >SKY-RISS II</text>
<text x="123.00" y="421.70" font-size="4.5" text-anchor="start" font-weight="bold" fill="#111" stroke="#111" stroke-width="0.1" >SKY-RISS III</text>
<text x="51.00" y="427.90" font-size="4.5" text-anchor="start" font-weight="bold" fill="#111" stroke="#111" stroke-width="0.1" >SKY SR</text>
<text x="51.00" y="433.70" font-size="4.5" text-anchor="start" font-weight="bold" fill="#111" stroke="#111" stroke-width="0.1" >SKY HR</text>
<text x="81.50" y="427.90" font-size="4.6" text-anchor="middle" font-weight="normal" fill="#346b50" stroke="#346b50" stroke-width="0" >17</text>
<text x="107.60" y="427.90" font-size="4.6" text-anchor="middle" font-weight="normal" fill="#e29d32" stroke="#e29d32" stroke-width="0" >50</text>
<text x="107.60" y="433.70" font-size="4.6" text-anchor="middle" font-weight="normal" fill="#525870" stroke="#525870" stroke-width="0" >5</text>
<text x="135.80" y="433.70" font-size="4.6" text-anchor="middle" font-weight="normal" fill="#525870" stroke="#525870" stroke-width="0" >19</text>
<line x1="94.70" y1="423.00" x2="94.70" y2="434.60" stroke="#000" stroke-width="0.95" stroke-dasharray="0.8 0.8"/>
<line x1="121.20" y1="423.00" x2="121.20" y2="434.60" stroke="#000" stroke-width="0.95" stroke-dasharray="0.8 0.8"/>
<text x="47.50" y="471.70" font-size="6" text-anchor="start" font-weight="normal" fill="#111" stroke="#111" stroke-width="0.06" >Number at risk</text>
<path d="M47.50 475.70 V504.10 H253.30" fill="none" stroke="#1a1a1a" stroke-width="1.3"/>
<line x1="57.00" y1="504.10" x2="57.00" y2="506.90" stroke="#1a1a1a" stroke-width="1.2"/>
<text x="57.00" y="515.70" font-size="6" text-anchor="middle" font-weight="normal" fill="#2a2a2a" stroke="#2a2a2a" stroke-width="0.1" >0</text>
<line x1="101.90" y1="504.10" x2="101.90" y2="506.90" stroke="#1a1a1a" stroke-width="1.2"/>
<text x="101.90" y="515.70" font-size="6" text-anchor="middle" font-weight="normal" fill="#2a2a2a" stroke="#2a2a2a" stroke-width="0.1" >12</text>
<line x1="146.80" y1="504.10" x2="146.80" y2="506.90" stroke="#1a1a1a" stroke-width="1.2"/>
<text x="146.80" y="515.70" font-size="6" text-anchor="middle" font-weight="normal" fill="#2a2a2a" stroke="#2a2a2a" stroke-width="0.1" >24</text>
<line x1="191.70" y1="504.10" x2="191.70" y2="506.90" stroke="#1a1a1a" stroke-width="1.2"/>
<text x="191.70" y="515.70" font-size="6" text-anchor="middle" font-weight="normal" fill="#2a2a2a" stroke="#2a2a2a" stroke-width="0.1" >36</text>
<line x1="236.60" y1="504.10" x2="236.60" y2="506.90" stroke="#1a1a1a" stroke-width="1.2"/>
<text x="236.60" y="515.70" font-size="6" text-anchor="middle" font-weight="normal" fill="#2a2a2a" stroke="#2a2a2a" stroke-width="0.1" >48</text>
<text x="0.00" y="0.00" font-size="7.6" text-anchor="middle" font-weight="normal" fill="#222" stroke="#222" stroke-width="0.25" transform="translate(150.40,526.50) rotate(0) scale(0.71,1)" >Months</text>
<text x="0.00" y="0.00" font-size="8.2" text-anchor="middle" font-weight="normal" fill="#222" stroke="#222" stroke-width="0.3" transform="translate(28.80,490.00) rotate(-90) scale(0.66,1)" >Strata</text>
<line x1="33.00" y1="481.70" x2="44.70" y2="481.70" stroke="#346b50" stroke-width="1.3"/>
<text x="57.00" y="483.90" font-size="6" text-anchor="middle" font-weight="normal" fill="#333" stroke="#333" stroke-width="0.06" >17</text>
<text x="101.90" y="483.90" font-size="6" text-anchor="middle" font-weight="normal" fill="#333" stroke="#333" stroke-width="0.06" >16</text>
<text x="146.80" y="483.90" font-size="6" text-anchor="middle" font-weight="normal" fill="#333" stroke="#333" stroke-width="0.06" >15</text>
<text x="191.70" y="483.90" font-size="6" text-anchor="middle" font-weight="normal" fill="#333" stroke="#333" stroke-width="0.06" >6</text>
<text x="236.60" y="483.90" font-size="6" text-anchor="middle" font-weight="normal" fill="#333" stroke="#333" stroke-width="0.06" >2</text>
<line x1="33.00" y1="490.40" x2="44.70" y2="490.40" stroke="#e29d32" stroke-width="1.3"/>
<text x="57.00" y="492.60" font-size="6" text-anchor="middle" font-weight="normal" fill="#333" stroke="#333" stroke-width="0.06" >52</text>
<text x="101.90" y="492.60" font-size="6" text-anchor="middle" font-weight="normal" fill="#333" stroke="#333" stroke-width="0.06" >42</text>
<text x="146.80" y="492.60" font-size="6" text-anchor="middle" font-weight="normal" fill="#333" stroke="#333" stroke-width="0.06" >27</text>
<text x="191.70" y="492.60" font-size="6" text-anchor="middle" font-weight="normal" fill="#333" stroke="#333" stroke-width="0.06" >15</text>
<text x="236.60" y="492.60" font-size="6" text-anchor="middle" font-weight="normal" fill="#333" stroke="#333" stroke-width="0.06" >4</text>
<line x1="33.00" y1="499.10" x2="44.70" y2="499.10" stroke="#525870" stroke-width="1.3"/>
<text x="57.00" y="501.30" font-size="6" text-anchor="middle" font-weight="normal" fill="#333" stroke="#333" stroke-width="0.06" >24</text>
<text x="101.90" y="501.30" font-size="6" text-anchor="middle" font-weight="normal" fill="#333" stroke="#333" stroke-width="0.06" >16</text>
<text x="146.80" y="501.30" font-size="6" text-anchor="middle" font-weight="normal" fill="#333" stroke="#333" stroke-width="0.06" >5</text>
<text x="191.70" y="501.30" font-size="6" text-anchor="middle" font-weight="normal" fill="#333" stroke="#333" stroke-width="0.06" >3</text>
<text x="236.60" y="501.30" font-size="6" text-anchor="middle" font-weight="normal" fill="#333" stroke="#333" stroke-width="0.06" >1</text>
<text x="268.40" y="284.80" font-size="10.6" text-anchor="start" font-weight="bold" fill="#000" stroke="#000" stroke-width="0.35" >H</text>
<text x="0.00" y="0.00" font-size="7" text-anchor="middle" font-weight="normal" fill="#222" stroke="#222" stroke-width="0.18" transform="translate(284.90,364.40) rotate(-90) scale(0.83,1)" >% overall survival</text>
<path d="M307.50 290.70 V437.90 H513.30" fill="none" stroke="#1a1a1a" stroke-width="1.3"/>
<line x1="304.30" y1="297.25" x2="307.50" y2="297.25" stroke="#1a1a1a" stroke-width="1.2"/>
<text x="302.20" y="299.45" font-size="6.2" text-anchor="end" font-weight="normal" fill="#2a2a2a" stroke="#2a2a2a" stroke-width="0.1" >100</text>
<line x1="304.30" y1="330.75" x2="307.50" y2="330.75" stroke="#1a1a1a" stroke-width="1.2"/>
<text x="302.20" y="332.95" font-size="6.2" text-anchor="end" font-weight="normal" fill="#2a2a2a" stroke="#2a2a2a" stroke-width="0.1" >75</text>
<line x1="304.30" y1="364.25" x2="307.50" y2="364.25" stroke="#1a1a1a" stroke-width="1.2"/>
<text x="302.20" y="366.45" font-size="6.2" text-anchor="end" font-weight="normal" fill="#2a2a2a" stroke="#2a2a2a" stroke-width="0.1" >50</text>
<line x1="304.30" y1="397.75" x2="307.50" y2="397.75" stroke="#1a1a1a" stroke-width="1.2"/>
<text x="302.20" y="399.95" font-size="6.2" text-anchor="end" font-weight="normal" fill="#2a2a2a" stroke="#2a2a2a" stroke-width="0.1" >25</text>
<line x1="304.30" y1="431.25" x2="307.50" y2="431.25" stroke="#1a1a1a" stroke-width="1.2"/>
<text x="302.20" y="433.45" font-size="6.2" text-anchor="end" font-weight="normal" fill="#2a2a2a" stroke="#2a2a2a" stroke-width="0.1" >0</text>
<line x1="317.00" y1="437.90" x2="317.00" y2="440.70" stroke="#1a1a1a" stroke-width="1.2"/>
<text x="317.00" y="449.50" font-size="6" text-anchor="middle" font-weight="normal" fill="#2a2a2a" stroke="#2a2a2a" stroke-width="0.1" >0</text>
<line x1="361.90" y1="437.90" x2="361.90" y2="440.70" stroke="#1a1a1a" stroke-width="1.2"/>
<text x="361.90" y="449.50" font-size="6" text-anchor="middle" font-weight="normal" fill="#2a2a2a" stroke="#2a2a2a" stroke-width="0.1" >12</text>
<line x1="406.80" y1="437.90" x2="406.80" y2="440.70" stroke="#1a1a1a" stroke-width="1.2"/>
<text x="406.80" y="449.50" font-size="6" text-anchor="middle" font-weight="normal" fill="#2a2a2a" stroke="#2a2a2a" stroke-width="0.1" >24</text>
<line x1="451.70" y1="437.90" x2="451.70" y2="440.70" stroke="#1a1a1a" stroke-width="1.2"/>
<text x="451.70" y="449.50" font-size="6" text-anchor="middle" font-weight="normal" fill="#2a2a2a" stroke="#2a2a2a" stroke-width="0.1" >36</text>
<line x1="496.60" y1="437.90" x2="496.60" y2="440.70" stroke="#1a1a1a" stroke-width="1.2"/>
<text x="496.60" y="449.50" font-size="6" text-anchor="middle" font-weight="normal" fill="#2a2a2a" stroke="#2a2a2a" stroke-width="0.1" >48</text>
<text x="0.00" y="0.00" font-size="7.6" text-anchor="middle" font-weight="normal" fill="#222" stroke="#222" stroke-width="0.25" transform="translate(410.40,460.80) rotate(0) scale(0.71,1)" >Months</text>
<text x="310.70" y="353.90" font-size="5" text-anchor="start" font-weight="normal" fill="#333" stroke="#333" stroke-width="0" >Strata</text>
<line x1="310.90" y1="359.30" x2="315.90" y2="359.30" stroke="#346b50" stroke-width="1.1"/>
<line x1="313.40" y1="358.30" x2="313.40" y2="360.30" stroke="#346b50" stroke-width="0.7"/>
<text x="318.60" y="361.15" font-size="5.1" text-anchor="start" font-weight="normal" fill="#333" stroke="#333" stroke-width="0" >SKY SR</text>
<line x1="310.90" y1="368.05" x2="315.90" y2="368.05" stroke="#e29d32" stroke-width="1.1"/>
<line x1="313.40" y1="367.05" x2="313.40" y2="369.05" stroke="#e29d32" stroke-width="0.7"/>
<text x="318.60" y="369.90" font-size="5.1" text-anchor="start" font-weight="normal" fill="#333" stroke="#333" stroke-width="0" >upstaged to IR</text>
<line x1="310.90" y1="376.80" x2="315.90" y2="376.80" stroke="#525870" stroke-width="1.1"/>
<line x1="313.40" y1="375.80" x2="313.40" y2="377.80" stroke="#525870" stroke-width="0.7"/>
<text x="318.60" y="378.65" font-size="5.1" text-anchor="start" font-weight="normal" fill="#333" stroke="#333" stroke-width="0" >not LR</text>
<path d="M57.00 29.00 H236.60 V29.00" transform="translate(260,268.5)" fill="none" stroke="#346b50" stroke-width="1.4" stroke-linejoin="miter" stroke-linecap="butt"/>
<line x1="328.75" y1="296.20" x2="328.75" y2="298.30" stroke="#346b50" stroke-width="0.9"/>
<line x1="425.80" y1="296.20" x2="425.80" y2="298.30" stroke="#346b50" stroke-width="0.9"/>
<line x1="437.40" y1="296.20" x2="437.40" y2="298.30" stroke="#346b50" stroke-width="0.9"/>
<line x1="442.00" y1="296.20" x2="442.00" y2="298.30" stroke="#346b50" stroke-width="0.9"/>
<line x1="444.50" y1="296.20" x2="444.50" y2="298.30" stroke="#346b50" stroke-width="0.9"/>
<line x1="460.80" y1="296.20" x2="460.80" y2="298.30" stroke="#346b50" stroke-width="0.9"/>
<line x1="469.00" y1="296.20" x2="469.00" y2="298.30" stroke="#346b50" stroke-width="0.9"/>
<line x1="472.00" y1="296.20" x2="472.00" y2="298.30" stroke="#346b50" stroke-width="0.9"/>
<line x1="482.00" y1="296.20" x2="482.00" y2="298.30" stroke="#346b50" stroke-width="0.9"/>
<line x1="496.60" y1="296.20" x2="496.60" y2="298.30" stroke="#346b50" stroke-width="0.9"/>
<path d="M57.00 29.00 H96.30 V30.90 H100.00 V34.30 H102.00 V37.00 H103.30 V39.70 H109.30 V41.70 H127.50 V46.60 H133.50 V49.70 H137.20 V55.10 H143.60 V57.80 H166.40 V60.80 H177.30 V63.30 H236.50 V63.30" transform="translate(260,268.5)" fill="none" stroke="#e29d32" stroke-width="1.4" stroke-linejoin="miter" stroke-linecap="butt"/>
<line x1="444.40" y1="330.75" x2="444.40" y2="332.85" stroke="#e29d32" stroke-width="0.9"/>
<line x1="446.90" y1="330.75" x2="446.90" y2="332.85" stroke="#e29d32" stroke-width="0.9"/>
<line x1="451.10" y1="330.75" x2="451.10" y2="332.85" stroke="#e29d32" stroke-width="0.9"/>
<line x1="455.30" y1="330.75" x2="455.30" y2="332.85" stroke="#e29d32" stroke-width="0.9"/>
<line x1="459.50" y1="330.75" x2="459.50" y2="332.85" stroke="#e29d32" stroke-width="0.9"/>
<line x1="462.00" y1="330.75" x2="462.00" y2="332.85" stroke="#e29d32" stroke-width="0.9"/>
<line x1="464.50" y1="330.75" x2="464.50" y2="332.85" stroke="#e29d32" stroke-width="0.9"/>
<line x1="470.40" y1="330.75" x2="470.40" y2="332.85" stroke="#e29d32" stroke-width="0.9"/>
<line x1="474.60" y1="330.75" x2="474.60" y2="332.85" stroke="#e29d32" stroke-width="0.9"/>
<line x1="478.00" y1="330.75" x2="478.00" y2="332.85" stroke="#e29d32" stroke-width="0.9"/>
<line x1="480.50" y1="330.75" x2="480.50" y2="332.85" stroke="#e29d32" stroke-width="0.9"/>
<line x1="483.00" y1="330.75" x2="483.00" y2="332.85" stroke="#e29d32" stroke-width="0.9"/>
<line x1="485.50" y1="330.75" x2="485.50" y2="332.85" stroke="#e29d32" stroke-width="0.9"/>
<line x1="488.00" y1="330.75" x2="488.00" y2="332.85" stroke="#e29d32" stroke-width="0.9"/>
<line x1="490.60" y1="330.75" x2="490.60" y2="332.85" stroke="#e29d32" stroke-width="0.9"/>
<line x1="494.00" y1="330.75" x2="494.00" y2="332.85" stroke="#e29d32" stroke-width="0.9"/>
<line x1="496.50" y1="330.75" x2="496.50" y2="332.85" stroke="#e29d32" stroke-width="0.9"/>
<path d="M57.00 28.90 H82.40 V34.50 H99.50 V40.30 H104.20 V46.40 H106.00 V51.50 H112.40 V57.10 H115.30 V62.50 H121.80 V68.60 H124.00 V73.50 H131.00 V79.00 H134.20 V84.80 H173.40 V91.00 H176.80 V96.90 H191.10 V104.00 H196.10 V111.50 H222.50 V119.90 H223.90 V130.50 H236.50 V130.50" transform="translate(260,268.5)" fill="none" stroke="#525870" stroke-width="1.4" stroke-linejoin="miter" stroke-linecap="butt"/>
<line x1="429.20" y1="352.25" x2="429.20" y2="354.35" stroke="#525870" stroke-width="0.9"/>
<line x1="447.70" y1="364.35" x2="447.70" y2="366.45" stroke="#525870" stroke-width="0.9"/>
<line x1="470.40" y1="378.95" x2="470.40" y2="381.05" stroke="#525870" stroke-width="0.9"/>
<line x1="496.50" y1="397.95" x2="496.50" y2="400.05" stroke="#525870" stroke-width="0.9"/>
<text x="329.00" y="422.70" font-size="4.5" text-anchor="start" font-weight="bold" fill="#111" stroke="#111" stroke-width="0.1" >SKY-RISS I</text>
<text x="354.80" y="422.70" font-size="4.5" text-anchor="start" font-weight="bold" fill="#111" stroke="#111" stroke-width="0.1" >SKY-RISS II</text>
<text x="382.00" y="422.70" font-size="4.5" text-anchor="start" font-weight="bold" fill="#111" stroke="#111" stroke-width="0.1" >SKY-RISS III</text>
<text x="310.00" y="428.90" font-size="4.5" text-anchor="start" font-weight="bold" fill="#111" stroke="#111" stroke-width="0.1" >SKY SR</text>
<text x="310.00" y="434.70" font-size="4.5" text-anchor="start" font-weight="bold" fill="#111" stroke="#111" stroke-width="0.1" >SKY HR</text>
<text x="340.50" y="428.90" font-size="4.6" text-anchor="middle" font-weight="normal" fill="#346b50" stroke="#346b50" stroke-width="0" >17</text>
<text x="366.60" y="428.90" font-size="4.6" text-anchor="middle" font-weight="normal" fill="#e29d32" stroke="#e29d32" stroke-width="0" >50</text>
<text x="366.60" y="434.70" font-size="4.6" text-anchor="middle" font-weight="normal" fill="#525870" stroke="#525870" stroke-width="0" >5</text>
<text x="394.80" y="434.70" font-size="4.6" text-anchor="middle" font-weight="normal" fill="#525870" stroke="#525870" stroke-width="0" >19</text>
<line x1="353.70" y1="424.00" x2="353.70" y2="435.60" stroke="#000" stroke-width="0.95" stroke-dasharray="0.8 0.8"/>
<line x1="380.20" y1="424.00" x2="380.20" y2="435.60" stroke="#000" stroke-width="0.95" stroke-dasharray="0.8 0.8"/>
<text x="307.50" y="471.70" font-size="6" text-anchor="start" font-weight="normal" fill="#111" stroke="#111" stroke-width="0.06" >Number at risk</text>
<path d="M307.50 475.70 V504.10 H513.30" fill="none" stroke="#1a1a1a" stroke-width="1.3"/>
<line x1="317.00" y1="504.10" x2="317.00" y2="506.90" stroke="#1a1a1a" stroke-width="1.2"/>
<text x="317.00" y="515.70" font-size="6" text-anchor="middle" font-weight="normal" fill="#2a2a2a" stroke="#2a2a2a" stroke-width="0.1" >0</text>
<line x1="361.90" y1="504.10" x2="361.90" y2="506.90" stroke="#1a1a1a" stroke-width="1.2"/>
<text x="361.90" y="515.70" font-size="6" text-anchor="middle" font-weight="normal" fill="#2a2a2a" stroke="#2a2a2a" stroke-width="0.1" >12</text>
<line x1="406.80" y1="504.10" x2="406.80" y2="506.90" stroke="#1a1a1a" stroke-width="1.2"/>
<text x="406.80" y="515.70" font-size="6" text-anchor="middle" font-weight="normal" fill="#2a2a2a" stroke="#2a2a2a" stroke-width="0.1" >24</text>
<line x1="451.70" y1="504.10" x2="451.70" y2="506.90" stroke="#1a1a1a" stroke-width="1.2"/>
<text x="451.70" y="515.70" font-size="6" text-anchor="middle" font-weight="normal" fill="#2a2a2a" stroke="#2a2a2a" stroke-width="0.1" >36</text>
<line x1="496.60" y1="504.10" x2="496.60" y2="506.90" stroke="#1a1a1a" stroke-width="1.2"/>
<text x="496.60" y="515.70" font-size="6" text-anchor="middle" font-weight="normal" fill="#2a2a2a" stroke="#2a2a2a" stroke-width="0.1" >48</text>
<text x="0.00" y="0.00" font-size="7.6" text-anchor="middle" font-weight="normal" fill="#222" stroke="#222" stroke-width="0.25" transform="translate(410.40,526.50) rotate(0) scale(0.71,1)" >Months</text>
<text x="0.00" y="0.00" font-size="8.2" text-anchor="middle" font-weight="normal" fill="#222" stroke="#222" stroke-width="0.3" transform="translate(288.80,490.00) rotate(-90) scale(0.66,1)" >Strata</text>
<line x1="293.00" y1="481.70" x2="304.70" y2="481.70" stroke="#346b50" stroke-width="1.3"/>
<text x="317.00" y="483.90" font-size="6" text-anchor="middle" font-weight="normal" fill="#333" stroke="#333" stroke-width="0.06" >17</text>
<text x="361.90" y="483.90" font-size="6" text-anchor="middle" font-weight="normal" fill="#333" stroke="#333" stroke-width="0.06" >16</text>
<text x="406.80" y="483.90" font-size="6" text-anchor="middle" font-weight="normal" fill="#333" stroke="#333" stroke-width="0.06" >16</text>
<text x="451.70" y="483.90" font-size="6" text-anchor="middle" font-weight="normal" fill="#333" stroke="#333" stroke-width="0.06" >9</text>
<text x="496.60" y="483.90" font-size="6" text-anchor="middle" font-weight="normal" fill="#333" stroke="#333" stroke-width="0.06" >5</text>
<line x1="293.00" y1="490.40" x2="304.70" y2="490.40" stroke="#e29d32" stroke-width="1.3"/>
<text x="317.00" y="492.60" font-size="6" text-anchor="middle" font-weight="normal" fill="#333" stroke="#333" stroke-width="0.06" >52</text>
<text x="361.90" y="492.60" font-size="6" text-anchor="middle" font-weight="normal" fill="#333" stroke="#333" stroke-width="0.06" >49</text>
<text x="406.80" y="492.60" font-size="6" text-anchor="middle" font-weight="normal" fill="#333" stroke="#333" stroke-width="0.06" >39</text>
<text x="451.70" y="492.60" font-size="6" text-anchor="middle" font-weight="normal" fill="#333" stroke="#333" stroke-width="0.06" >30</text>
<text x="496.60" y="492.60" font-size="6" text-anchor="middle" font-weight="normal" fill="#333" stroke="#333" stroke-width="0.06" >8</text>
<line x1="293.00" y1="499.10" x2="304.70" y2="499.10" stroke="#525870" stroke-width="1.3"/>
<text x="317.00" y="501.30" font-size="6" text-anchor="middle" font-weight="normal" fill="#333" stroke="#333" stroke-width="0.06" >24</text>
<text x="361.90" y="501.30" font-size="6" text-anchor="middle" font-weight="normal" fill="#333" stroke="#333" stroke-width="0.06" >22</text>
<text x="406.80" y="501.30" font-size="6" text-anchor="middle" font-weight="normal" fill="#333" stroke="#333" stroke-width="0.06" >14</text>
<text x="451.70" y="501.30" font-size="6" text-anchor="middle" font-weight="normal" fill="#333" stroke="#333" stroke-width="0.06" >8</text>
<text x="496.60" y="501.30" font-size="6" text-anchor="middle" font-weight="normal" fill="#333" stroke="#333" stroke-width="0.06" >3</text>
<rect x="0.5" y="0.5" width="519" height="535" fill="none" stroke="#000" stroke-width="1.2"/>
</svg>
</body></html>
